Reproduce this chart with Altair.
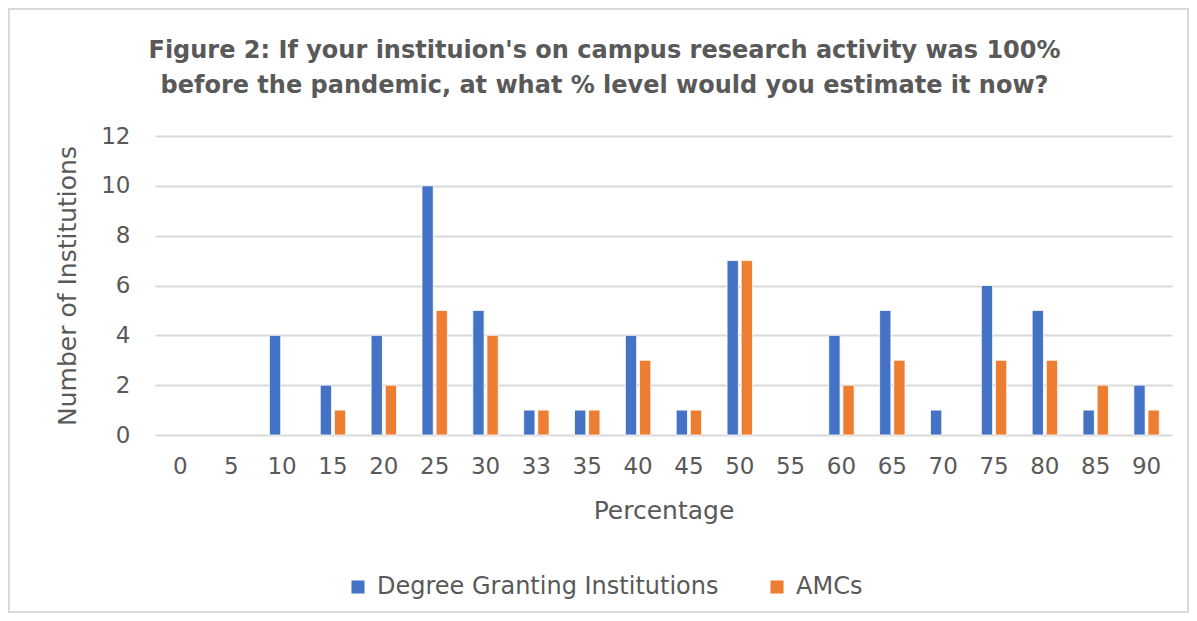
import altair as alt
import pandas as pd

categories = ["0", "5", "10", "15", "20", "25", "30", "33", "35", "40",
              "45", "50", "55", "60", "65", "70", "75", "80", "85", "90"]
degree = [0, 0, 4, 2, 4, 10, 5, 1, 1, 4, 1, 7, 0, 4, 5, 1, 6, 5, 1, 2]
amcs = [0, 0, 0, 1, 2, 5, 4, 1, 1, 3, 1, 7, 0, 2, 3, 0, 3, 3, 2, 1]
series_names = ["Degree Granting Institutions", "AMCs"]
colors = ["#4472C4", "#ED7D31"]

rows = []
for c, d, a in zip(categories, degree, amcs):
    rows.append({"pct": c, "series": series_names[0], "value": d})
    rows.append({"pct": c, "series": series_names[1], "value": a})
df = pd.DataFrame(rows)

FONT = "DejaVu Sans"
GRAY = "#595959"

bars = alt.Chart(df).transform_filter("datum.value > 0").mark_bar(
    stroke="white", strokeWidth=0.8
).encode(
    x=alt.X("pct:N", sort=categories,
            scale=alt.Scale(domain=categories, paddingInner=0.5, paddingOuter=0.25),
            axis=alt.Axis(title="Percentage", labelAngle=0, ticks=False, domain=False,
                          labelPadding=20, titlePadding=20, labelFontSize=23)),
    xOffset=alt.XOffset("series:N", sort=series_names,
                        scale=alt.Scale(domain=series_names, paddingInner=0.2)),
    y=alt.Y("value:Q", scale=alt.Scale(domain=[0, 12]),
            axis=alt.Axis(title="Number of Institutions", values=[0, 2, 4, 6, 8, 10, 12],
                          ticks=False, domain=False, labelPadding=25, titlePadding=20,
                          labelFontSize=23,
                          gridColor="#d9d9d9", gridWidth=2)),
    color=alt.Color("series:N", sort=series_names,
                    scale=alt.Scale(domain=series_names, range=colors),
                    legend=alt.Legend(title=None, orient="none", direction="horizontal",
                                      legendX=191, legendY=439, symbolType="square",
                                      symbolSize=170, symbolStrokeWidth=0,
                                      columnPadding=46, labelFontSize=24, labelLimit=0,
                                      labelColor=GRAY, labelFont=FONT, symbolOffset=0,
                                      labelOffset=7)),
)

frame = alt.Chart(df).mark_rect(fill=None, stroke="#d9d9d9", strokeWidth=2).encode(
    x=alt.value(-146), x2=alt.value(1033), y=alt.value(-127), y2=alt.value(476)
)

chart = alt.layer(frame, bars).properties(
    width=1017, height=299,
    padding={"left": 147, "top": 128, "right": 17, "bottom": 180},
    autosize=alt.AutoSizeParams(type="none"),
    title=alt.TitleParams(
        ["Figure 2: If your instituion's on campus research activity was 100%",
         "before the pandemic, at what % level would you estimate it now?"],
        font=FONT, fontSize=24, fontWeight="bold", color=GRAY, anchor="middle",
        dx=-59, offset=-90, lineHeight=35),
).configure_view(stroke=None).configure_axis(
    labelFont=FONT, titleFont=FONT, titleFontSize=25,
    labelColor=GRAY, titleColor=GRAY, titleFontWeight="normal"
).configure_axisX(grid=False)

chart.save("out.html", embed_options={"renderer": "svg", "actions": False})
